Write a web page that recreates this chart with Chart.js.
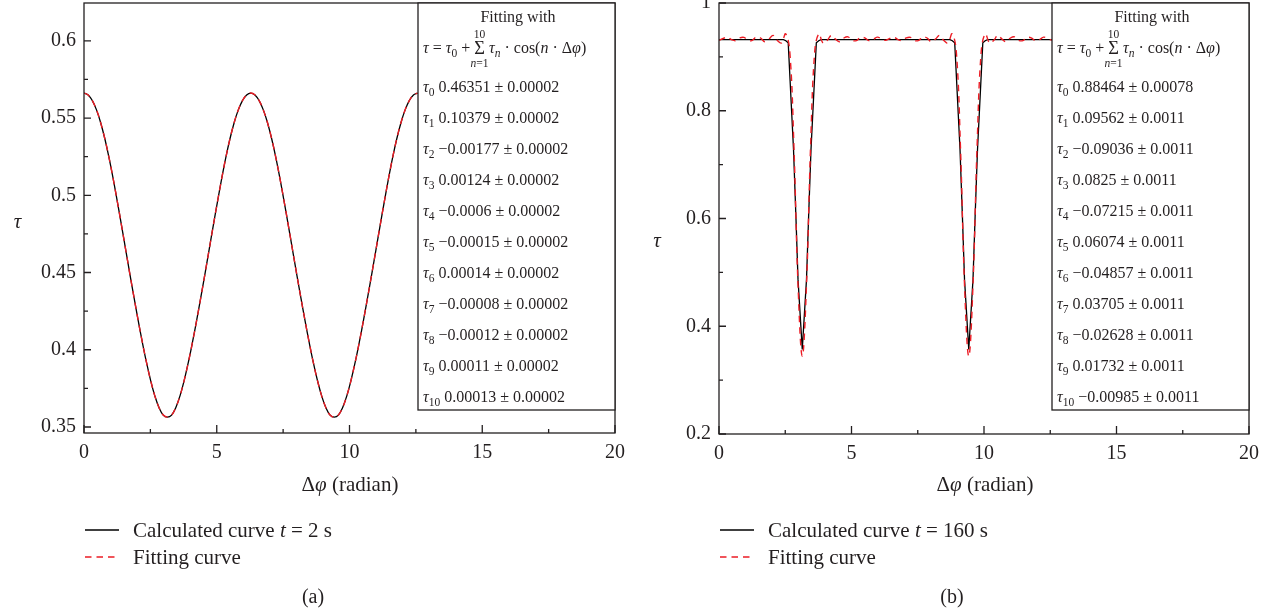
<!DOCTYPE html>
<html>
<head>
<meta charset="utf-8">
<script src="https://cdn.jsdelivr.net/npm/chart.js@4.4.1/dist/chart.umd.min.js"></script>
<style>
  html, body { margin: 0; padding: 0; background: #fff; }
  #wrap { position: relative; width: 1270px; height: 615px; overflow: hidden; }
  canvas { position: absolute; top: 0; }
  #cA { left: 0; }
  #cB { left: 635px; }
</style>
</head>
<body>
<div id="wrap">
  <canvas id="cA" width="635" height="615"></canvas>
  <canvas id="cB" width="635" height="615"></canvas>
</div>
<script>
// Δφ grid (radian): 0 … 4π in steps of π/20
const phi = [
  0, 0.157, 0.314, 0.471, 0.628, 0.785, 0.942, 1.100, 1.257, 1.414,
  1.571, 1.728, 1.885, 2.042, 2.199, 2.356, 2.513, 2.670, 2.827, 2.985,
  3.142, 3.299, 3.456, 3.613, 3.770, 3.927, 4.084, 4.241, 4.398, 4.555,
  4.712, 4.869, 5.027, 5.184, 5.341, 5.498, 5.655, 5.812, 5.969, 6.126,
  6.283, 6.440, 6.597, 6.754, 6.912, 7.069, 7.226, 7.383, 7.540, 7.697,
  7.854, 8.011, 8.168, 8.325, 8.482, 8.639, 8.796, 8.954, 9.111, 9.268,
  9.425, 9.582, 9.739, 9.896, 10.053, 10.210, 10.367, 10.524, 10.681, 10.838,
  10.996, 11.153, 11.310, 11.467, 11.624, 11.781, 11.938, 12.095, 12.252, 12.409,
  12.566
];

// (a) t = 2 s
const tauCalcA = [
  0.5662, 0.5650, 0.5613, 0.5553, 0.5470, 0.5366, 0.5244, 0.5106, 0.4958, 0.4804,
  0.4647, 0.4490, 0.4337, 0.4188, 0.4047, 0.3916, 0.3799, 0.3700, 0.3625, 0.3577,
  0.3564, 0.3577, 0.3625, 0.3700, 0.3799, 0.3916, 0.4047, 0.4188, 0.4337, 0.4490,
  0.4647, 0.4804, 0.4958, 0.5106, 0.5244, 0.5366, 0.5470, 0.5553, 0.5613, 0.5650,
  0.5662, 0.5650, 0.5613, 0.5553, 0.5470, 0.5366, 0.5244, 0.5106, 0.4958, 0.4804,
  0.4647, 0.4490, 0.4337, 0.4188, 0.4047, 0.3916, 0.3799, 0.3700, 0.3625, 0.3577,
  0.3564, 0.3577, 0.3625, 0.3700, 0.3799, 0.3916, 0.4047, 0.4188, 0.4337, 0.4490,
  0.4647, 0.4804, 0.4958, 0.5106, 0.5244, 0.5366, 0.5470, 0.5553, 0.5613, 0.5650,
  0.5662
];
const tauFitA = [
  0.5662, 0.5650, 0.5613, 0.5553, 0.5470, 0.5366, 0.5244, 0.5106, 0.4958, 0.4804,
  0.4647, 0.4490, 0.4337, 0.4188, 0.4047, 0.3916, 0.3799, 0.3700, 0.3625, 0.3577,
  0.3564, 0.3577, 0.3625, 0.3700, 0.3799, 0.3916, 0.4047, 0.4188, 0.4337, 0.4490,
  0.4647, 0.4804, 0.4958, 0.5106, 0.5244, 0.5366, 0.5470, 0.5553, 0.5613, 0.5650,
  0.5662, 0.5650, 0.5613, 0.5553, 0.5470, 0.5366, 0.5244, 0.5106, 0.4958, 0.4804,
  0.4647, 0.4490, 0.4337, 0.4188, 0.4047, 0.3916, 0.3799, 0.3700, 0.3625, 0.3577,
  0.3564, 0.3577, 0.3625, 0.3700, 0.3799, 0.3916, 0.4047, 0.4188, 0.4337, 0.4490,
  0.4647, 0.4804, 0.4958, 0.5106, 0.5244, 0.5366, 0.5470, 0.5553, 0.5613, 0.5650,
  0.5662
];

// (b) t = 160 s: calculated curve on its own abscissae
const phiCalcB = [
  0, 2.432, 2.522, 2.612, 2.812, 2.902, 2.982, 3.142, 3.302, 3.382, 3.472, 3.672, 3.762, 3.852,
  8.715, 8.805, 8.895, 9.095, 9.185, 9.265, 9.425, 9.585, 9.665, 9.755, 9.955, 10.045, 10.135, 12.566
];
const tauCalcB = [
  0.932, 0.932, 0.930, 0.926, 0.728, 0.604, 0.487, 0.357, 0.487, 0.604, 0.728, 0.926, 0.930, 0.932,
  0.932, 0.930, 0.926, 0.728, 0.604, 0.487, 0.357, 0.487, 0.604, 0.728, 0.926, 0.930, 0.932, 0.932
];
const tauFitB = [
  0.9307, 0.9341, 0.9366, 0.9320, 0.9301, 0.9353, 0.9362, 0.9303, 0.9308, 0.9372,
  0.9350, 0.9281, 0.9329, 0.9399, 0.9306, 0.9257, 0.9427, 0.9106, 0.7342, 0.4732,
  0.3442, 0.4732, 0.7342, 0.9106, 0.9427, 0.9257, 0.9306, 0.9399, 0.9329, 0.9281,
  0.9350, 0.9372, 0.9308, 0.9303, 0.9362, 0.9353, 0.9301, 0.9320, 0.9366, 0.9341,
  0.9307, 0.9341, 0.9366, 0.9320, 0.9301, 0.9353, 0.9362, 0.9303, 0.9308, 0.9372,
  0.9350, 0.9281, 0.9329, 0.9399, 0.9306, 0.9257, 0.9427, 0.9106, 0.7342, 0.4732,
  0.3442, 0.4732, 0.7342, 0.9106, 0.9427, 0.9257, 0.9306, 0.9399, 0.9329, 0.9281,
  0.9350, 0.9372, 0.9308, 0.9303, 0.9362, 0.9353, 0.9301, 0.9320, 0.9366, 0.9341,
  0.9307
];

// fitted coefficients τ0 … τ10 and their errors
const coefA = [0.46351, 0.10379, -0.00177, 0.00124, -0.0006, -0.00015, 0.00014, -0.00008, -0.00012, 0.00011, 0.00013];
const errA  = [0.00002, 0.00002, 0.00002, 0.00002, 0.00002, 0.00002, 0.00002, 0.00002, 0.00002, 0.00002, 0.00002];
const coefB = [0.88464, 0.09562, -0.09036, 0.0825, -0.07215, 0.06074, -0.04857, 0.03705, -0.02628, 0.01732, -0.00985];
const errB  = [0.00078, 0.0011, 0.0011, 0.0011, 0.0011, 0.0011, 0.0011, 0.0011, 0.0011, 0.0011, 0.0011];

// axis ticks
const xTicks = [0, 5, 10, 15, 20];
const xMinor = [2.5, 7.5, 12.5, 17.5];
const yTicksA = [0.35, 0.4, 0.45, 0.5, 0.55, 0.6];
const yMinorA = [0.375, 0.425, 0.475, 0.525, 0.575];
const yTicksB = [0.2, 0.4, 0.6, 0.8, 1];
const yMinorB = [0.3, 0.5, 0.7, 0.9];

const legendA = ['Calculated curve t = 2 s', 'Fitting curve'];
const legendB = ['Calculated curve t = 160 s', 'Fitting curve'];

const SERIF = '"Liberation Serif", "Times New Roman", "DejaVu Serif", serif';
const INK = '#231f20';
const RED = '#ec1c24';
const DASH = [6.5, 5];

function fnt(size, italic) { return (italic ? 'italic ' : '') + size + 'px ' + SERIF; }

// draw a row of text runs: {t, i: italic, s: subscript, z: size factor}
function drawRuns(ctx, runs, x, y, size, align) {
  ctx.textBaseline = 'alphabetic';
  ctx.textAlign = 'left';
  const sizeOf = r => size * (r.s ? 0.72 : 1) * (r.z || 1);
  let w = 0;
  for (const r of runs) { ctx.font = fnt(sizeOf(r), r.i); w += ctx.measureText(r.t).width; }
  let cx = align === 'center' ? x - w / 2 : x;
  const pos = [];
  for (const r of runs) {
    ctx.font = fnt(sizeOf(r), r.i);
    ctx.fillText(r.t, cx, y + (r.s ? size * 0.24 : 0) + (r.dy || 0));
    const ww = ctx.measureText(r.t).width;
    pos.push({ x: cx, w: ww });
    cx += ww;
  }
  return pos;
}

function num(v) { return String(v).replace('-', '\u2212'); }

function legendRuns(label) {
  return label.split(/(\bt\b)/).filter(s => s.length).map(s => ({ t: s, i: s === 't' }));
}

function paperPlugin(cfg) {
  return {
    id: 'paper',
    afterDraw(chart) {
      const ctx = chart.ctx;
      const a = chart.chartArea;
      const xs = chart.scales.x, ys = chart.scales.y;
      ctx.save();
      ctx.strokeStyle = INK;
      ctx.fillStyle = INK;
      ctx.lineWidth = 1.3;
      // frame
      ctx.strokeRect(a.left, a.top, a.right - a.left, a.bottom - a.top);
      // inward ticks
      ctx.beginPath();
      for (const v of xTicks) { const p = xs.getPixelForValue(v); ctx.moveTo(p, a.bottom); ctx.lineTo(p, a.bottom - 8); }
      for (const v of xMinor) { const p = xs.getPixelForValue(v); ctx.moveTo(p, a.bottom); ctx.lineTo(p, a.bottom - 4); }
      for (const v of cfg.yTicks) { const p = ys.getPixelForValue(v); ctx.moveTo(a.left, p); ctx.lineTo(a.left + 7, p); }
      for (const v of cfg.yMinor) { const p = ys.getPixelForValue(v); ctx.moveTo(a.left, p); ctx.lineTo(a.left + 4, p); }
      ctx.stroke();

      // fit parameter box
      const bx = a.right - 197, by = a.top, bw = 197, bh = 407;
      ctx.fillStyle = '#fff';
      ctx.fillRect(bx, by, bw, bh);
      ctx.strokeRect(bx, by, bw, bh);
      ctx.fillStyle = INK;
      const fs = 16;
      drawRuns(ctx, [{ t: 'Fitting with' }], bx + 100, 22, fs, 'center');
      const f = drawRuns(ctx, [
        { t: 'τ', i: 1 }, { t: ' = ' }, { t: 'τ', i: 1 }, { t: '0', s: 1 }, { t: ' + ' },
        { t: 'Σ', z: 1.15, dy: 1 }, { t: ' ' }, { t: 'τ', i: 1 }, { t: 'n', i: 1, s: 1 }, { t: ' · cos(' },
        { t: 'n', i: 1 }, { t: ' · Δ' }, { t: 'φ', i: 1 }, { t: ')' }
      ], bx + 5, 53, fs, 'left');
      const sig = f[5];
      const cxs = sig.x + sig.w / 2;
      drawRuns(ctx, [{ t: '10' }], cxs, 38, fs * 0.72, 'center');
      drawRuns(ctx, [{ t: 'n', i: 1 }, { t: '=1' }], cxs, 67, fs * 0.72, 'center');
      for (let k = 0; k < cfg.coef.length; k++) {
        drawRuns(ctx, [
          { t: 'τ', i: 1 }, { t: String(k), s: 1 },
          { t: ' ' + num(cfg.coef[k]) + ' ± ' + num(cfg.err[k]) }
        ], bx + 5, 92.3 + 31 * k, fs, 'left');
      }

      // axis titles
      ctx.font = fnt(21, true);
      ctx.textAlign = 'center';
      ctx.textBaseline = 'alphabetic';
      ctx.fillText('τ', cfg.tauX, cfg.tauY);
      drawRuns(ctx, [{ t: 'Δ' }, { t: 'φ', i: 1 }, { t: ' (radian)' }], 350, 491, 21, 'center');

      // legend
      const ds = chart.data.datasets;
      const rowsY = [530, 557];
      for (let i = 0; i < ds.length; i++) {
        ctx.beginPath();
        ctx.strokeStyle = ds[i].borderColor;
        ctx.lineWidth = ds[i].borderWidth;
        ctx.setLineDash(ds[i].borderDash || []);
        ctx.moveTo(a.left + 1, rowsY[i]);
        ctx.lineTo(119, rowsY[i]);
        ctx.stroke();
        ctx.setLineDash([]);
        ctx.fillStyle = INK;
        drawRuns(ctx, legendRuns(ds[i].label), 133, rowsY[i] + 7.3, 21, 'left');
      }

      // panel caption
      drawRuns(ctx, [{ t: cfg.caption }], cfg.capX, 602.7, 20, 'center');
      ctx.restore();
    }
  };
}

function buildChart(id, cfg) {
  return new Chart(document.getElementById(id), {
    type: 'line',
    data: {
      datasets: [
        {
          label: cfg.legend[0],
          data: cfg.calcX.map((x, i) => ({ x, y: cfg.calcY[i] })),
          borderColor: '#000', borderWidth: 1.3, pointRadius: 0,
          tension: cfg.calcTension, order: 2
        },
        {
          label: cfg.legend[1],
          data: phi.map((x, i) => ({ x, y: cfg.fitY[i] })),
          borderColor: RED, borderWidth: 1.4, borderDash: DASH, pointRadius: 0,
          tension: 0.4, order: 1
        }
      ]
    },
    options: {
      responsive: false,
      devicePixelRatio: 1,
      animation: false,
      events: [],
      layout: { padding: { left: 0, right: cfg.padRight, top: 3, bottom: 0 } },
      plugins: { legend: { display: false }, tooltip: { enabled: false } },
      scales: {
        x: {
          type: 'linear', min: 0, max: 20,
          grid: { display: false, drawTicks: false },
          border: { display: false },
          ticks: { color: INK, font: { family: SERIF, size: 20 }, padding: 8, maxRotation: 0, autoSkip: false, callback: v => String(v) },
          afterBuildTicks: s => { s.ticks = xTicks.map(v => ({ value: v })); },
          afterFit: s => { s.height = 615 - cfg.bottom; s.paddingLeft = 0; s.paddingRight = 0; }
        },
        y: {
          type: 'linear', min: cfg.yMin, max: cfg.yMax,
          grid: { display: false, drawTicks: false },
          border: { display: false },
          ticks: { color: INK, font: { family: SERIF, size: 20 }, padding: 8, autoSkip: false, callback: v => String(v) },
          afterBuildTicks: s => { s.ticks = cfg.yTicks.map(v => ({ value: v })); },
          afterFit: s => { s.width = 84; s.paddingTop = 0; s.paddingBottom = 0; }
        }
      }
    },
    plugins: [paperPlugin(cfg)]
  });
}

buildChart('cA', {
  calcX: phi, calcY: tauCalcA, fitY: tauFitA, calcTension: 0.4,
  yMin: 0.3461, yMax: 0.6245, yTicks: yTicksA, yMinor: yMinorA,
  coef: coefA, err: errA, legend: legendA,
  padRight: 20, bottom: 433, tauX: 17.5, tauY: 228, caption: '(a)', capX: 313
});
buildChart('cB', {
  calcX: phiCalcB, calcY: tauCalcB, fitY: tauFitB, calcTension: 0,
  yMin: 0.2, yMax: 1, yTicks: yTicksB, yMinor: yMinorB,
  coef: coefB, err: errB, legend: legendB,
  padRight: 21, bottom: 434, tauX: 22, tauY: 247, caption: '(b)', capX: 317
});
</script>
</body>
</html>
